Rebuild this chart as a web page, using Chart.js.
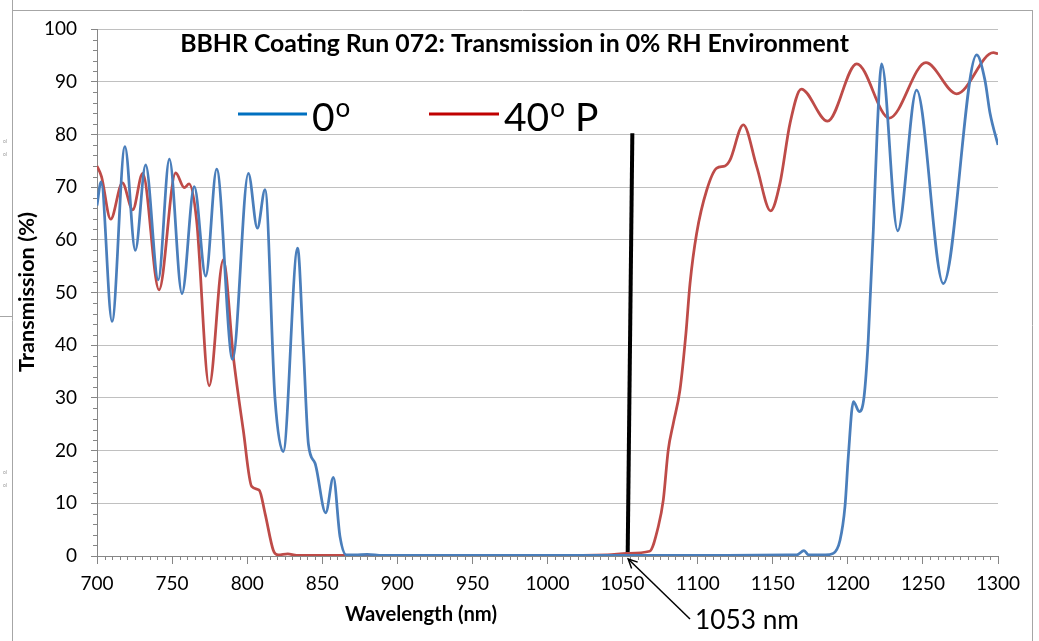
<!DOCTYPE html>
<html><head><meta charset="utf-8">
<script src="https://cdn.jsdelivr.net/npm/chart.js@4"></script>
<style>html,body{margin:0;padding:0;background:#fff;}#wrap{width:1039px;height:641px;}</style>
</head><body><div id="wrap"><canvas id="c" width="1039" height="641"></canvas></div>
<script>
// ---- data ----
const blueX = [700,702.7,710,718.6,725.5,732.4,740.8,748.2,756.6,764.8,772.4,779.7,790.3,800.8,806.8,811.9,818.5,824,833.6,837.4,840.8,845.2,852.3,857.4,861.8,866,872,880,890,920,960,1000,1040,1080,1120,1160,1166,1170.8,1174,1185,1190.3,1194.8,1198.1,1200.3,1203.7,1207.6,1210.8,1213.6,1217,1219.6,1222.5,1233.2,1245.8,1263.6,1285.8,1291.3,1294.7,1300];
const blueY = [66.5,71,44.5,77.7,58,74.2,52.4,75.3,49.8,70.1,53.1,73.4,37.3,72.6,62.2,69.5,30,19.8,58.4,39.7,21.2,17.6,8.2,14.9,3.7,0.2,0.2,0.3,0.1,0.1,0.1,0.1,0.1,0.1,0.1,0.2,0.2,1.0,0.2,0.2,0.5,3,9.4,18.8,29.3,27.4,30.2,41,62,81,93.4,61.7,88.4,51.7,95.1,90.3,84,78];
const redX = [700,703,709.1,716.9,723.8,730.4,741.3,752.4,758.1,761.3,766.3,774.7,784.1,790.8,797.4,803,808,811.9,817.4,820.7,827,833,860,900,950,1000,1040,1053,1068,1073.8,1077.1,1080.4,1083.8,1088.2,1092.2,1094.9,1099.3,1106,1112.7,1118.2,1121.5,1130.4,1139.3,1148.6,1154.8,1161.5,1169,1186.5,1205.9,1227.6,1252,1272.5,1296.9,1300];
const redY = [74,72,63.9,70.8,65.7,72.6,50.5,72.7,69.9,70.6,63.8,32.3,56.2,37.8,23.9,13.2,12.5,8.1,1.1,0.2,0.4,0.1,0.1,0.1,0.1,0.1,0.2,0.5,0.9,5.6,10.6,20.1,25.2,31.5,42.3,51.7,61.2,69.4,73.6,74,75.1,81.8,73.9,65.5,70.7,82.1,88.6,82.5,93.4,83.1,93.6,87.7,95.5,95.3];
const markerX = [1053.4,1056.5];
const markerY = [0.5,80.2];
const seriesNames = ['0', '40'];
const markerLabel = '1053 nm';
const chartTitle = 'BBHR Coating Run 072: Transmission in 0% RH Environment';
const xTitle = 'Wavelength (nm)';
const yTitle = 'Transmission (%)';
const xRange = [700,1300], xStep = 50, xMinor = 5;
const yRange = [0,100], yStep = 10, yMinor = 2;

const toPts = (xs, ys) => xs.map((x,i)=>({x, y: ys[i]}));
const FONT = 'Lato, "Open Sans", sans-serif';
const AXIS = '#868686', GRID = '#c0c0c0';

function fitFont(ctx, text, weight, target){
  ctx.font = weight+' 20px '+FONT;
  const w = ctx.measureText(text).width;
  return 20*target/w;
}

const decor = {
  id: 'decor',
  beforeDraw(chart){
    const ctx = chart.ctx;
    ctx.save();
    ctx.fillStyle = '#fff';
    ctx.fillRect(0,0,chart.width,chart.height);
    ctx.strokeStyle = '#a6a6a6'; ctx.lineWidth = 1;
    ctx.beginPath();
    ctx.moveTo(12.5,0); ctx.lineTo(12.5,641);
    ctx.moveTo(12,10.5); ctx.lineTo(1033,10.5);
    ctx.moveTo(1032.5,10); ctx.lineTo(1032.5,641);
    ctx.moveTo(0,316.5); ctx.lineTo(12,316.5);
    ctx.stroke();
    ctx.fillStyle = '#999'; ctx.font = '5px '+FONT; ctx.textBaseline='middle'; ctx.textAlign='left';
    [141,154,472,485].forEach(y=>ctx.fillText('ol',3,y));
    ctx.restore();
  },
  afterDraw(chart){
    const ctx = chart.ctx, xs = chart.scales.x, ys = chart.scales.y, ca = chart.chartArea;
    ctx.save();
    // minor ticks
    ctx.strokeStyle = AXIS; ctx.lineWidth = 1;
    ctx.beginPath();
    for(let v=xRange[0]; v<=xRange[1]; v+=xMinor){
      if(v % xStep === 0) continue;
      const p = Math.round(xs.getPixelForValue(v))+0.5;
      ctx.moveTo(p, ca.bottom); ctx.lineTo(p, ca.bottom+4);
    }
    for(let v=yRange[0]; v<=yRange[1]; v+=yMinor){
      if(v % yStep === 0) continue;
      const p = Math.round(ys.getPixelForValue(v))+0.5;
      ctx.moveTo(ca.left-4, p); ctx.lineTo(ca.left, p);
    }
    ctx.stroke();
    // title
    ctx.fillStyle = '#000';
    ctx.textAlign = 'center'; ctx.textBaseline = 'middle';
    let fs = fitFont(ctx, chartTitle, 'bold', 669);
    ctx.font = 'bold '+fs+'px '+FONT;
    ctx.fillText(chartTitle, 514.5, 44);
    // axis titles
    fs = fitFont(ctx, xTitle, 'bold', 152);
    ctx.font = 'bold '+fs+'px '+FONT;
    ctx.fillText(xTitle, 421, 614);
    fs = fitFont(ctx, yTitle, 'bold', 160);
    ctx.save();
    ctx.translate(27, 292); ctx.rotate(-Math.PI/2);
    ctx.font = 'bold '+fs+'px '+FONT;
    ctx.fillText(yTitle, 0, 0);
    ctx.restore();
    // legend
    const drawEntry = (x0, x1, color, main, suffix) => {
      ctx.strokeStyle = color; ctx.lineWidth = 3;
      ctx.beginPath(); ctx.moveTo(x0, 114); ctx.lineTo(x1, 114); ctx.stroke();
      ctx.fillStyle = '#000'; ctx.textAlign = 'left'; ctx.textBaseline = 'alphabetic';
      let x = x1 + 5;
      ctx.font = '39px '+FONT; ctx.fillText(main, x, 131); x += ctx.measureText(main).width + 1;
      ctx.font = '26px '+FONT; ctx.fillText('o', x, 117); x += ctx.measureText('o').width;
      if(suffix){ ctx.font = '39px '+FONT; ctx.fillText(suffix, x, 131); }
    };
    drawEntry(238, 307, '#0070c0', seriesNames[0], '');
    drawEntry(429, 499, '#c00000', seriesNames[1], ' P');
    // annotation arrow
    const tipX = xs.getPixelForValue(markerX[0]) + 0.5, tipY = ca.bottom + 3;
    const tailX = 690, tailY = 619;
    ctx.strokeStyle = '#000'; ctx.lineWidth = 1.5;
    ctx.beginPath(); ctx.moveTo(tailX, tailY); ctx.lineTo(tipX, tipY); ctx.stroke();
    const ang = Math.atan2(tailY-tipY, tailX-tipX);
    ctx.beginPath();
    ctx.moveTo(tipX + 10*Math.cos(ang-0.45), tipY + 10*Math.sin(ang-0.45));
    ctx.lineTo(tipX, tipY);
    ctx.lineTo(tipX + 10*Math.cos(ang+0.45), tipY + 10*Math.sin(ang+0.45));
    ctx.stroke();
    fs = fitFont(ctx, markerLabel, 'normal', 104);
    ctx.font = fs+'px '+FONT; ctx.fillStyle='#000'; ctx.textAlign='left'; ctx.textBaseline='middle';
    ctx.fillText(markerLabel, 695, 621);
    ctx.restore();
  }
};

new Chart(document.getElementById('c'), {
  type: 'line',
  data: {
    datasets: [
      {label: '0°', data: toPts(blueX, blueY), borderColor: '#4a7ebb', borderWidth: 2.75, pointRadius: 0, cubicInterpolationMode: 'monotone', fill: false},
      {label: '40° P', data: toPts(redX, redY), borderColor: '#be4b48', borderWidth: 2.75, pointRadius: 0, cubicInterpolationMode: 'monotone', fill: false},
      {label: '1053 nm', data: toPts(markerX, markerY), borderColor: '#000', borderWidth: 4, pointRadius: 0, tension: 0, fill: false}
    ]
  },
  options: {
    responsive: false, animation: false, devicePixelRatio: 1,
    layout: {padding: {left: 0, top: 29, right: 41, bottom: 0}},
    plugins: {legend: {display: false}, title: {display: false}, tooltip: {enabled: false}},
    scales: {
      x: {
        type: 'linear', min: xRange[0], max: xRange[1],
        ticks: {stepSize: xStep, color: '#000', font: {family: FONT, size: 19}, padding: 8, maxRotation: 0, callback: v => String(v)},
        grid: {drawOnChartArea: false, drawTicks: true, tickLength: 8, tickColor: AXIS},
        border: {color: AXIS, width: 1},
        afterFit(s){ s.height = 85; }
      },
      y: {
        min: yRange[0], max: yRange[1],
        ticks: {stepSize: yStep, color: '#000', font: {family: FONT, size: 19}, padding: 14, callback: v => String(v)},
        grid: {color: GRID, lineWidth: 1, drawTicks: true, tickLength: 6, tickColor: AXIS},
        border: {color: AXIS, width: 1},
        afterFit(s){ s.width = 97; }
      }
    }
  },
  plugins: [decor]
});
</script>
</body></html>
